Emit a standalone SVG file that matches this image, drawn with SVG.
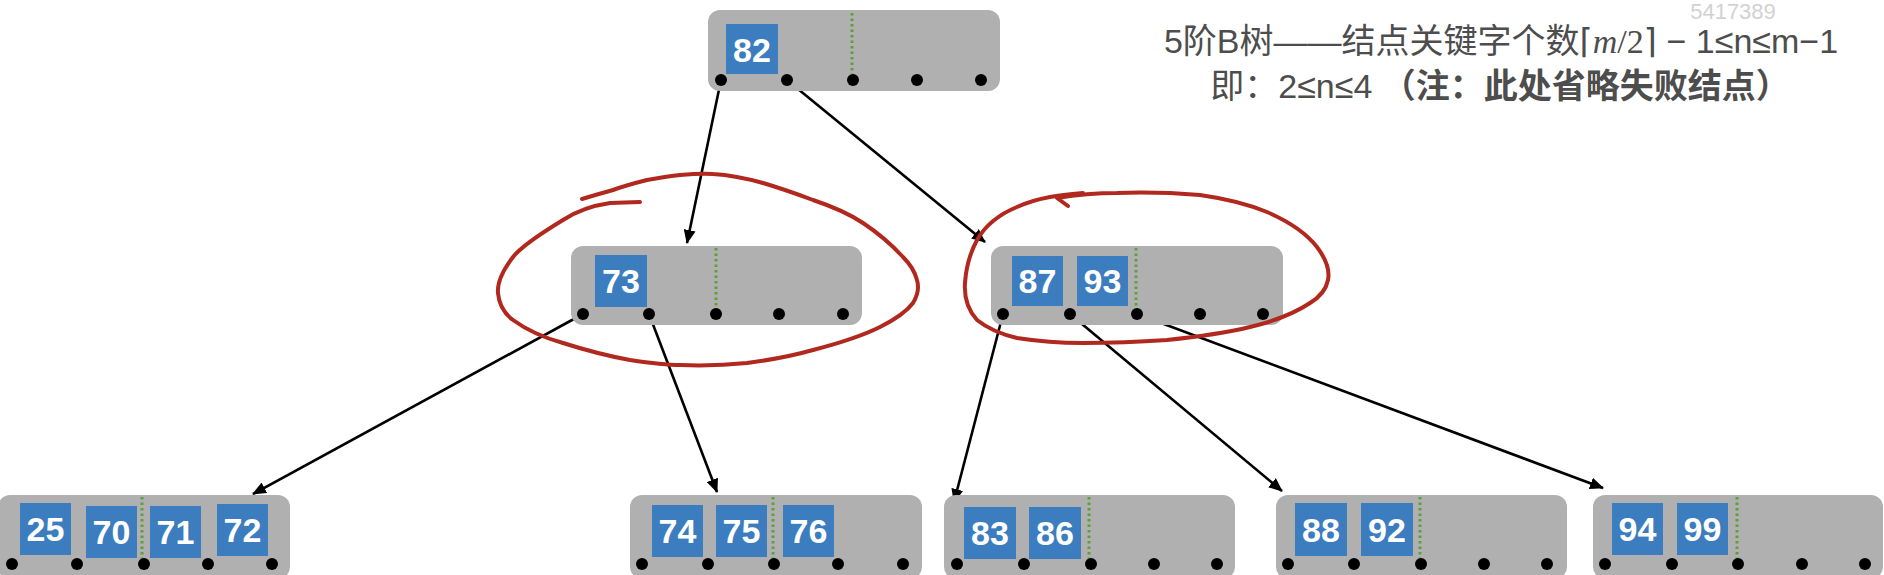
<svg xmlns="http://www.w3.org/2000/svg" width="1884" height="575" viewBox="0 0 1884 575">
<defs>
<style>
.nd{fill:#b0b0b0}
.k{fill:#3b7dbf}
.kt{font-family:"Liberation Sans",Arial,sans-serif;font-size:34px;font-weight:bold;fill:#fff;text-anchor:middle}
.dot{fill:#000}
.dl{stroke:#5f9e3c;stroke-width:3;stroke-dasharray:2.5 3}
.ar{stroke:#000;stroke-width:2.6;fill:none;marker-end:url(#ah)}
.red{stroke:#b0281e;stroke-width:4;fill:none;stroke-linecap:round;stroke-linejoin:round}
.t{font-family:"Liberation Sans","Noto Sans CJK SC",sans-serif;font-size:34px;fill:#4d4d4d;text-anchor:middle}
</style>
<marker id="ah" viewBox="0 0 14 12" refX="13" refY="6" markerWidth="14" markerHeight="12" markerUnits="userSpaceOnUse" orient="auto">
<path d="M0,0 L14,6 L0,12 Z" fill="#000"/>
</marker>
</defs>
<rect width="1884" height="575" fill="#fff"/>

<g id="title">
<text x="1733" y="19" style="font-family:'Liberation Sans',sans-serif;font-size:22px;fill:#d2d2d2;text-anchor:middle">5417389</text>
<text class="t" x="1501" y="53">5阶B树——结点关键字个数<tspan font-family="DejaVu Sans">⌈</tspan><tspan font-family="Liberation Serif" font-style="italic">m</tspan><tspan font-family="Liberation Serif">/2</tspan><tspan font-family="DejaVu Sans">⌉</tspan> − 1≤n≤m−1</text>
<text class="t" x="1500" y="98">即：2≤n≤4  <tspan font-weight="bold">（注：此处省略失败结点）</tspan></text>
</g>

<g id="connectors">
<line class="ar" x1="721" y1="80" x2="687" y2="243"/>
<line class="ar" x1="787" y1="80" x2="985" y2="242"/>
<line class="ar" x1="583" y1="314" x2="253" y2="494"/>
<line class="ar" x1="649" y1="314" x2="717" y2="492"/>
<line class="ar" x1="1003" y1="314" x2="954" y2="502"/>
<line class="ar" x1="1070" y1="314" x2="1282" y2="491"/>
<line class="ar" x1="1137" y1="314" x2="1603" y2="488"/>
</g>

<g id="node-82">
<rect class="nd" x="708" y="10" width="292" height="81" rx="12"/>
<rect class="k" x="726" y="24" width="52" height="50"/>
<text class="kt" x="752" y="62">82</text>
<line class="dl" x1="852" y1="13" x2="852" y2="76"/>
<circle class="dot" cx="721" cy="80" r="6"/><circle class="dot" cx="787" cy="80" r="6"/><circle class="dot" cx="853" cy="80" r="6"/><circle class="dot" cx="917" cy="80" r="6"/><circle class="dot" cx="981" cy="80" r="6"/>
</g>

<g id="node-73">
<rect class="nd" x="571" y="246" width="291" height="79" rx="12"/>
<rect class="k" x="595" y="255" width="52" height="52"/>
<text class="kt" x="621" y="293">73</text>
<line class="dl" x1="716" y1="248" x2="716" y2="310"/>
<circle class="dot" cx="583" cy="314" r="6"/><circle class="dot" cx="649" cy="314" r="6"/><circle class="dot" cx="716" cy="314" r="6"/><circle class="dot" cx="779" cy="314" r="6"/><circle class="dot" cx="843" cy="314" r="6"/>
</g>

<g id="node-87-93">
<rect class="nd" x="991" y="246" width="292" height="79" rx="12"/>
<rect class="k" x="1012" y="256" width="51" height="50"/>
<text class="kt" x="1037.5" y="293">87</text>
<rect class="k" x="1077" y="256" width="51" height="50"/>
<text class="kt" x="1102.5" y="293">93</text>
<line class="dl" x1="1136" y1="248" x2="1136" y2="310"/>
<circle class="dot" cx="1003" cy="314" r="6"/><circle class="dot" cx="1070" cy="314" r="6"/><circle class="dot" cx="1137" cy="314" r="6"/><circle class="dot" cx="1200" cy="314" r="6"/><circle class="dot" cx="1263" cy="314" r="6"/>
</g>

<g id="node-25-70-71-72">
<rect class="nd" x="-2" y="495" width="292" height="84" rx="12"/>
<rect class="k" x="20" y="503" width="51" height="52"/>
<text class="kt" x="45.5" y="541">25</text>
<rect class="k" x="86" y="506" width="51" height="52"/>
<text class="kt" x="111.5" y="544">70</text>
<rect class="k" x="150" y="506" width="51" height="52"/>
<text class="kt" x="175.5" y="544">71</text>
<rect class="k" x="217" y="504" width="51" height="52"/>
<text class="kt" x="242.5" y="542">72</text>
<line class="dl" x1="142" y1="497" x2="142" y2="560"/>
<circle class="dot" cx="12" cy="564" r="6"/><circle class="dot" cx="77" cy="564" r="6"/><circle class="dot" cx="144" cy="564" r="6"/><circle class="dot" cx="208" cy="564" r="6"/><circle class="dot" cx="272" cy="564" r="6"/>
</g>

<g id="node-74-75-76">
<rect class="nd" x="630" y="495" width="292" height="84" rx="12"/>
<rect class="k" x="652" y="505" width="51" height="52"/>
<text class="kt" x="677.5" y="543">74</text>
<rect class="k" x="716" y="505" width="51" height="52"/>
<text class="kt" x="741.5" y="543">75</text>
<rect class="k" x="783" y="505" width="51" height="52"/>
<text class="kt" x="808.5" y="543">76</text>
<line class="dl" x1="773" y1="497" x2="773" y2="560"/>
<circle class="dot" cx="642" cy="564" r="6"/><circle class="dot" cx="708" cy="564" r="6"/><circle class="dot" cx="774" cy="564" r="6"/><circle class="dot" cx="838" cy="564" r="6"/><circle class="dot" cx="903" cy="564" r="6"/>
</g>

<g id="node-83-86">
<rect class="nd" x="944" y="495" width="291" height="84" rx="12"/>
<rect class="k" x="964" y="507" width="52" height="52"/>
<text class="kt" x="990" y="545">83</text>
<rect class="k" x="1029" y="507" width="52" height="52"/>
<text class="kt" x="1055" y="545">86</text>
<line class="dl" x1="1089" y1="497" x2="1089" y2="560"/>
<circle class="dot" cx="957" cy="564" r="6"/><circle class="dot" cx="1024" cy="564" r="6"/><circle class="dot" cx="1091" cy="564" r="6"/><circle class="dot" cx="1154" cy="564" r="6"/><circle class="dot" cx="1217" cy="564" r="6"/>
</g>

<g id="node-88-92">
<rect class="nd" x="1276" y="495" width="291" height="84" rx="12"/>
<rect class="k" x="1295" y="503" width="52" height="53"/>
<text class="kt" x="1321" y="542">88</text>
<rect class="k" x="1361" y="503" width="52" height="53"/>
<text class="kt" x="1387" y="542">92</text>
<line class="dl" x1="1420" y1="497" x2="1420" y2="560"/>
<circle class="dot" cx="1288" cy="564" r="6"/><circle class="dot" cx="1354" cy="564" r="6"/><circle class="dot" cx="1421" cy="564" r="6"/><circle class="dot" cx="1484" cy="564" r="6"/><circle class="dot" cx="1547" cy="564" r="6"/>
</g>

<g id="node-94-99">
<rect class="nd" x="1593" y="495" width="290" height="84" rx="12"/>
<rect class="k" x="1612" y="503" width="51" height="52"/>
<text class="kt" x="1637.5" y="541">94</text>
<rect class="k" x="1677" y="503" width="51" height="52"/>
<text class="kt" x="1702.5" y="541">99</text>
<line class="dl" x1="1737" y1="497" x2="1737" y2="560"/>
<circle class="dot" cx="1605" cy="564" r="6"/><circle class="dot" cx="1672" cy="564" r="6"/><circle class="dot" cx="1738" cy="564" r="6"/><circle class="dot" cx="1802" cy="564" r="6"/><circle class="dot" cx="1865" cy="564" r="6"/>
</g>

<g id="annotations">
<path class="red" d="M640,202 L610,203 C590,206 575,212 563,220 C540,234 520,248 513,257 C503,270 497,282 498,293 C499,305 505,314 513,320 C528,331 545,338 563,343 C585,350 608,356 630,360 C650,363 665,365 680,365 C705,366 727,365 747,363 C770,360 792,356 813,350 C840,343 862,336 880,327 C896,319 907,311 913,303 C918,295 919,287 917,280 C915,272 910,264 903,257 C892,245 878,233 863,223 C848,213 831,206 813,200 C797,194 780,188 763,183 C745,178 729,175 713,174 C702,173 691,174 680,175 C669,176 658,178 647,180 C635,183 624,186 613,190 C602,193 592,196 582,199"/>
<path class="red" d="M1068,206 L1057,198 C1075,195 1095,193 1117,193 C1145,192 1175,193 1200,195 C1228,199 1250,205 1267,212 C1290,222 1307,234 1317,247 C1326,259 1330,270 1328,280 C1326,290 1320,297 1310,303 C1295,313 1275,321 1250,327 C1225,333 1196,337 1167,340 C1138,342 1110,343 1083,343 C1058,343 1036,341 1017,338 C1000,334 987,328 977,320 C968,310 964,297 965,283 C966,268 970,253 977,240 C985,226 1000,214 1017,207 C1028,202 1039,199 1050,197 C1061,195 1072,194 1083,193"/>
</g>
</svg>
